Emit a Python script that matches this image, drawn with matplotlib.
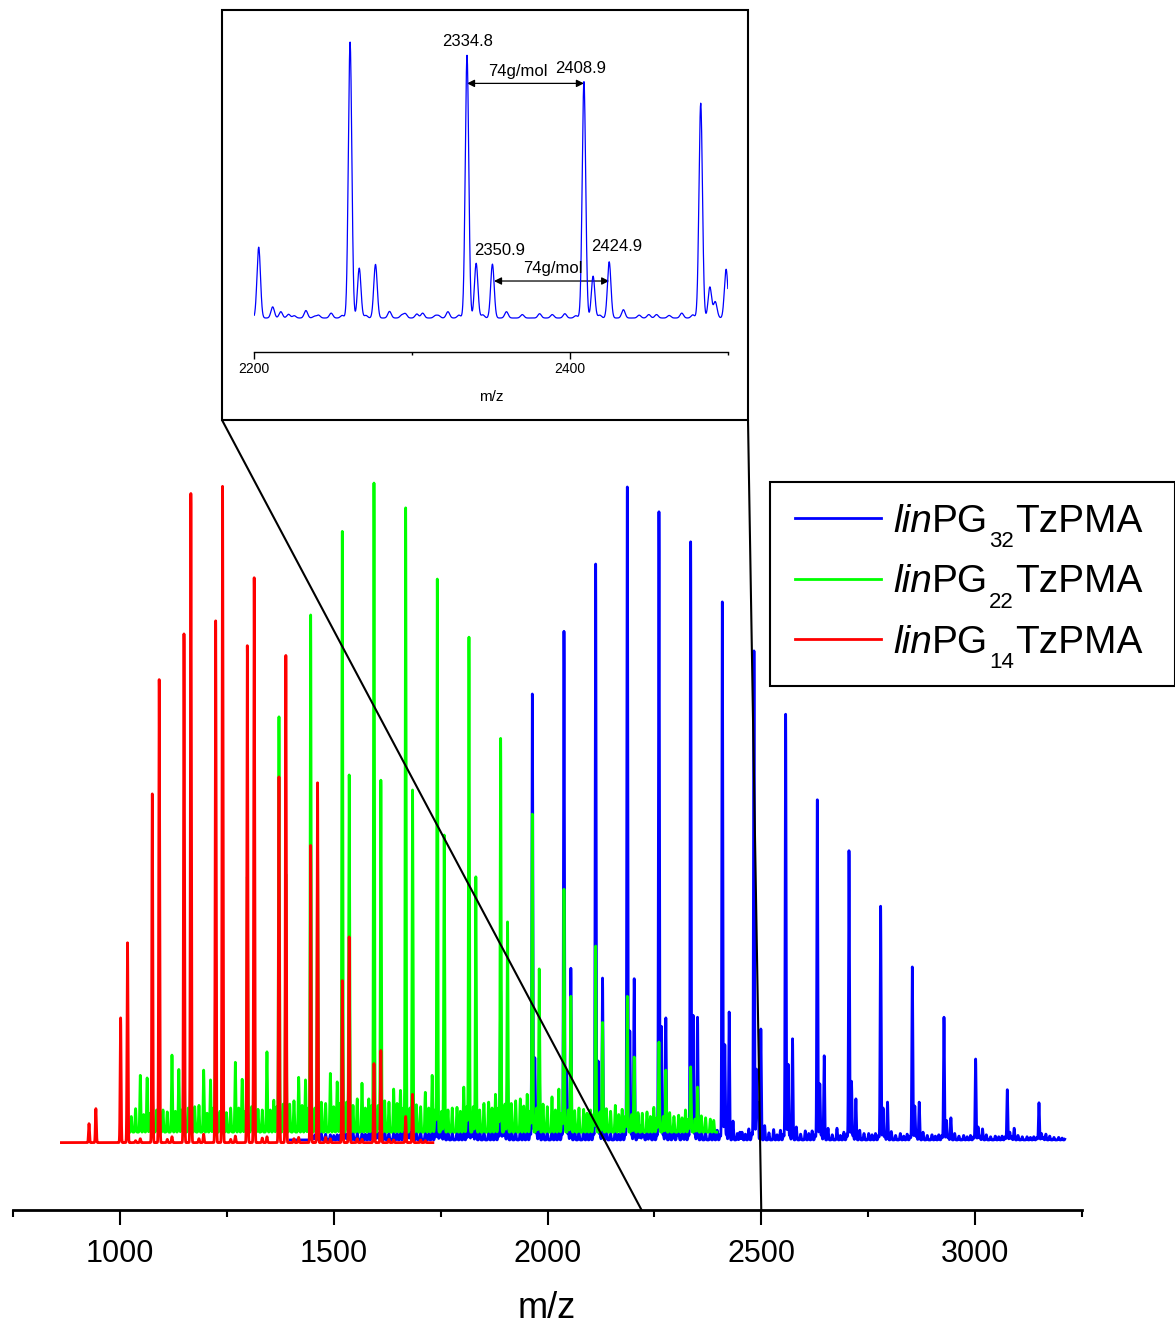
import numpy as np
import matplotlib
matplotlib.use("Agg")
import matplotlib.pyplot as plt
from matplotlib.patches import Rectangle, ConnectionPatch, FancyArrowPatch
from matplotlib.lines import Line2D
from matplotlib.transforms import IdentityTransform

plt.rcParams['font.family'] = ['Liberation Sans', 'DejaVu Sans']

# ---------------------------------------------------------------------------
# Peak positions (m/z) of the oligomer ladder: Na+ adducts and K+ adducts
# ---------------------------------------------------------------------------
NA_MZ = [927.5, 1001.5, 1075.6, 1149.7, 1223.8, 1297.8, 1371.9, 1446.0, 1520.0,
         1594.1, 1668.2, 1742.2, 1816.3, 1890.4, 1964.5, 2038.5, 2112.6, 2186.7,
         2260.7, 2334.8, 2408.9, 2482.9, 2557.0, 2631.1, 2705.2, 2779.2, 2853.3,
         2927.4, 3001.4, 3075.5, 3149.6]
K_MZ = [943.6, 1017.6, 1091.7, 1165.8, 1239.9, 1313.9, 1388.0, 1462.1, 1536.1,
        1610.2, 1684.3, 1758.3, 1832.4, 1906.5, 1980.6, 2054.6, 2128.7, 2202.8,
        2276.8, 2350.9, 2424.9, 2499.0, 2573.1, 2647.2, 2721.3, 2795.3, 2869.4,
        2943.5, 3017.5, 3091.6, 3165.7]
# minor side-series, mass offset from the Na+ peak of the same oligomer
SHOULDER_SHIFT = 5.8
SAT_D_SHIFT = 10.0
SAT_A_SHIFT = 25.0
SAT_E_SHIFT = 35.0
SAT_B_SHIFT = 46.0
SAT_F_SHIFT = 54.0
SAT_C_SHIFT = 62.0
SAT_G_SHIFT = 69.0

# ---------------------------------------------------------------------------
# Intensities (a.u.), one value per oligomer in the ladders above
# ---------------------------------------------------------------------------
# linPG14TzPMA (red)
RED_RANGE = (863.0, 1732.0)
RED_BASE = -0.4
RED_NA_H = [2.9, 19.1, 53.4, 77.9, 79.9, 76.1, 56.0, 45.5, 24.8, 12.1, 4.0,
            0, 0, 0, 0, 0, 0, 0, 0, 0, 0, 0, 0, 0, 0, 0, 0, 0, 0, 0, 0]
RED_K_H = [5.2, 30.6, 70.9, 99.4, 100.5, 86.5, 74.6, 55.1, 31.5, 14.1, 7.4,
           0, 0, 0, 0, 0, 0, 0, 0, 0, 0, 0, 0, 0, 0, 0, 0, 0, 0, 0, 0]
RED_SAT_B_H = [0, 0.6, 0.9, 1.3, 1.0, 0.9, 0.8, 0.6, 0.5, 0.4, 0.3,
               0, 0, 0, 0, 0, 0, 0, 0, 0, 0, 0, 0, 0, 0, 0, 0, 0, 0, 0, 0]
RED_SAT_E_H = [0, 0.3, 0.5, 0.6, 0.5, 0.7, 0.6, 0.8, 0.6, 0.5, 0.4,
               0, 0, 0, 0, 0, 0, 0, 0, 0, 0, 0, 0, 0, 0, 0, 0, 0, 0, 0, 0]

# linPG22TzPMA (green)
GREEN_RANGE = (1023.0, 2396.0)
GREEN_BASE = 1.2
GREEN_NA_H = [0, 0, 6.1, 14.5, 27.1, 39.1, 63.6, 79.2, 92.0, 99.4, 95.6, 84.7,
              75.8, 60.3, 48.7, 37.2, 28.5, 20.8, 13.8, 10.0,
              0, 0, 0, 0, 0, 0, 0, 0, 0, 0, 0]
GREEN_K_H = [0, 0, 5.4, 11.5, 19.1, 22.2, 39.5, 43.6, 54.7, 53.9, 52.4, 45.5,
             39.1, 32.2, 25.0, 20.8, 16.8, 11.5, 9.5, 6.9,
             0, 0, 0, 0, 0, 0, 0, 0, 0, 0, 0]
GREEN_SAT_A_H = [0, 2.4, 3.4, 3.9, 3.0, 3.5, 4.3, 4.6, 4.1, 4.8, 4.2, 3.4, 3.4,
                 4.4, 4.3, 3.3, 3.6, 3.0, 3.0, 2.5,
                 0, 0, 0, 0, 0, 0, 0, 0, 0, 0, 0]
GREEN_SAT_B_H = [0, 8.7, 11.8, 9.5, 10.7, 12.3, 8.4, 9.0, 7.5, 6.6, 6.1, 3.8,
                 4.6, 5.1, 5.4, 3.5, 4.1, 3.1, 2.6, 2.0,
                 0, 0, 0, 0, 0, 0, 0, 0, 0, 0, 0]
GREEN_SAT_C_H = [0, 8.3, 9.6, 8.0, 8.1, 4.9, 8.0, 7.7, 5.1, 6.4, 8.7, 6.9,
                 5.8, 5.8, 6.6, 3.4, 3.5, 3.8, 3.4, 0,
                 0, 0, 0, 0, 0, 0, 0, 0, 0, 0, 0]
GREEN_SAT_D_H = [0, 3.0, 3.4, 3.7, 3.2, 3.9, 4.3, 3.7, 4.6, 4.1, 3.7, 3.2, 3.9,
                 4.3, 3.7, 3.4, 3.1, 2.7, 2.4, 2.0,
                 0, 0, 0, 0, 0, 0, 0, 0, 0, 0, 0]
GREEN_SAT_E_H = [0, 3.6, 3.1, 4.1, 3.7, 3.4, 4.8, 4.4, 5.1, 4.6, 3.9, 3.7, 4.4,
                 4.8, 3.9, 3.7, 3.2, 2.9, 2.4, 2.2,
                 0, 0, 0, 0, 0, 0, 0, 0, 0, 0, 0]
GREEN_SAT_F_H = [0, 2.7, 3.2, 2.9, 3.7, 3.4, 4.1, 3.9, 3.7, 4.4, 3.7, 3.2, 3.7,
                 4.0, 3.4, 2.9, 2.7, 2.4, 2.2, 1.8,
                 0, 0, 0, 0, 0, 0, 0, 0, 0, 0, 0]
GREEN_SAT_G_H = [0, 2.9, 3.4, 3.7, 3.2, 3.9, 3.7, 4.4, 4.1, 3.7, 3.4, 3.9, 3.7,
                 3.2, 2.9, 2.7, 2.4, 2.2, 2.0, 0,
                 0, 0, 0, 0, 0, 0, 0, 0, 0, 0, 0]

# linPG32TzPMA (blue)
BLUE_RANGE = (1398.0, 3210.0)
BLUE_BASE = 0.0
BLUE_NA_H = [0, 0, 0, 0, 0, 0, 0, 2.1, 4.7, 7.0, 9.8, 11.8, 12.9, 22.8, 68.3,
             77.9, 88.2, 100.0, 96.2, 91.6, 82.4, 74.9, 65.2, 52.1, 44.3, 35.8,
             26.5, 18.8, 12.4, 7.7, 5.7]
BLUE_K_H = [0, 0, 0, 0, 0, 0, 0, 1.0, 2.1, 3.7, 5.2, 6.7, 8.3, 9.8, 12.6, 26.3,
            24.8, 24.7, 18.7, 18.8, 19.6, 17.0, 15.5, 12.9, 6.3, 5.8, 5.8, 3.4,
            1.7, 1.8, 0.9]
BLUE_SHOULDER_H = [0, 0, 0, 0, 0, 0, 0, 0.5, 0.8, 1.0, 1.2, 1.5, 2.0, 4.0, 12.6,
                   10.6, 12.1, 16.7, 17.4, 19.1, 14.6, 10.8, 11.6, 8.6, 9.0, 4.9,
                   5.2, 3.0, 2.0, 1.2, 1.0]
BLUE_SAT_A_H = [0, 0, 0, 0, 0, 0, 0, 1.0, 1.2, 1.5, 1.5, 1.8, 2.0, 2.2, 2.5, 2.6,
                2.6, 2.7, 2.3, 2.2, 2.9, 2.2, 2.0, 1.8, 1.5, 1.3, 1.2, 1.0, 0.8,
                0.7, 0.6]
BLUE_SAT_B_H = [0, 0, 0, 0, 0, 0, 0, 0.8, 1.0, 1.2, 1.3, 1.5, 1.6, 1.8, 2.0, 2.2,
                2.4, 2.6, 1.7, 1.5, 1.2, 1.6, 1.4, 1.8, 1.0, 1.0, 0.8, 0.7, 0.6,
                0.5, 0.4]
BLUE_SAT_C_H = [0, 0, 0, 0, 0, 0, 0, 0.8, 1.0, 1.2, 1.4, 1.5, 1.7, 1.8, 2.0, 2.0,
                1.8, 1.7, 2.2, 1.5, 1.7, 1.5, 1.4, 1.2, 1.0, 0.9, 0.8, 0.7, 0.6,
                0.5, 0.4]
BLUE_SAT_D_H = [0, 0, 0, 0, 0, 0, 0, 0.8, 0.9, 1.0, 1.1, 1.2, 1.3, 1.2, 1.4, 1.3,
                1.2, 1.0, 0.9, 1.1, 1.0, 0.9, 0.8, 1.0, 0.8, 0.7, 0.8, 0.6, 0.6,
                0.5, 0.4]
BLUE_SAT_E_H = [0, 0, 0, 0, 0, 0, 0, 0.9, 1.1, 1.0, 1.3, 1.2, 1.4, 1.5, 1.3, 1.2,
                1.0, 1.3, 1.5, 1.2, 1.0, 1.1, 0.9, 0.8, 1.0, 0.7, 0.7, 0.6, 0.5,
                0.5, 0.4]
BLUE_SAT_F_H = [0, 0, 0, 0, 0, 0, 0, 0.7, 0.9, 1.0, 1.0, 1.2, 1.1, 1.3, 1.2, 1.1,
                0.9, 1.0, 0.8, 1.2, 0.9, 0.8, 1.0, 0.7, 0.8, 0.6, 0.6, 0.5, 0.5,
                0.4, 0.3]
BLUE_SAT_G_H = [0, 0, 0, 0, 0, 0, 0, 0.8, 1.0, 1.1, 1.2, 1.1, 1.3, 1.4, 1.2, 1.3,
                1.1, 0.9, 1.0, 0.8, 1.1, 0.9, 0.8, 0.9, 0.7, 0.6, 0.7, 0.5, 0.5,
                0.4, 0.3]
BLUE_EXTRA_MZ = [2211.5, 2216.8, 2225.3, 2238.1, 2293.4, 2303.0, 2316.8, 2450.0, 2492.0]
BLUE_EXTRA_H = [1.2, 2.2, 0.8, 0.6, 1.0, 1.4, 0.8, 1.2, 5.0]

LABELS = ["PG", "TzPMA"]
SERIES_NAMES = ["32", "22", "14"]
XTICKS = [1000, 1500, 2000, 2500, 3000]
INSET_XTICKS = [2200, 2400]

PEAK_SIGMA = 1.1

BLUE = (0, 0, 1)
GREEN = (0, 1, 0)
RED = (1, 0, 0)


def build_trace(mz_range, base, families):
    """Sum of Gaussian peaks on a fine m/z grid."""
    grid = np.arange(mz_range[0], mz_range[1], 0.1)
    y = np.full_like(grid, base)
    for centers, heights in families:
        for c, h in zip(centers, heights):
            if h > 0 and mz_range[0] - 5 < c < mz_range[1] + 5:
                y += h * np.exp(-0.5 * ((grid - c) / PEAK_SIGMA) ** 2)
    return grid, y


def shifted(shift):
    return [m + shift for m in NA_MZ]


red_x, red_y = build_trace(RED_RANGE, RED_BASE, [
    (NA_MZ, RED_NA_H), (K_MZ, RED_K_H),
    (shifted(SAT_B_SHIFT), RED_SAT_B_H),
    (shifted(SAT_E_SHIFT), RED_SAT_E_H)])
green_x, green_y = build_trace(GREEN_RANGE, GREEN_BASE, [
    (NA_MZ, GREEN_NA_H), (K_MZ, GREEN_K_H),
    (shifted(SAT_A_SHIFT), GREEN_SAT_A_H),
    (shifted(SAT_B_SHIFT), GREEN_SAT_B_H),
    (shifted(SAT_C_SHIFT), GREEN_SAT_C_H),
    (shifted(SAT_D_SHIFT), GREEN_SAT_D_H),
    (shifted(SAT_E_SHIFT), GREEN_SAT_E_H),
    (shifted(SAT_F_SHIFT), GREEN_SAT_F_H),
    (shifted(SAT_G_SHIFT), GREEN_SAT_G_H)])
blue_x, blue_y = build_trace(BLUE_RANGE, BLUE_BASE, [
    (NA_MZ, BLUE_NA_H), (K_MZ, BLUE_K_H),
    (shifted(SHOULDER_SHIFT), BLUE_SHOULDER_H),
    (shifted(SAT_A_SHIFT), BLUE_SAT_A_H),
    (shifted(SAT_B_SHIFT), BLUE_SAT_B_H),
    (shifted(SAT_C_SHIFT), BLUE_SAT_C_H),
    (shifted(SAT_D_SHIFT), BLUE_SAT_D_H),
    (shifted(SAT_E_SHIFT), BLUE_SAT_E_H),
    (shifted(SAT_F_SHIFT), BLUE_SAT_F_H),
    (shifted(SAT_G_SHIFT), BLUE_SAT_G_H),
    (BLUE_EXTRA_MZ, BLUE_EXTRA_H)])

# ---------------------------------------------------------------------------
# Figure
# ---------------------------------------------------------------------------
W, H = 1175, 1329
fig = plt.figure(figsize=(W / 100, H / 100), dpi=100)
PX = IdentityTransform()

# main spectrum axes
ax = fig.add_axes([13.1 / W, 1 - 1210 / H, 1068.8 / W, (1210 - 470) / H])
YBOT, YTOP = -10.72, 102.6
ax.plot(blue_x, blue_y, color=BLUE, lw=2.0, zorder=2)
ax.plot(green_x, green_y, color=GREEN, lw=2.0, zorder=3)
ax.plot(red_x, red_y, color=RED, lw=2.0, zorder=4)
ax.set_xlim(750, 3250)
ax.set_ylim(YBOT, YTOP)
for s in ("top", "right", "left"):
    ax.spines[s].set_visible(False)
ax.spines["bottom"].set_linewidth(2.0)
ax.set_yticks([])
ax.set_xticks(XTICKS)
ax.set_xticks([750, 1250, 1750, 2250, 2750, 3250], minor=True)
ax.tick_params(axis="x", which="major", direction="out", length=10.8, width=1.5,
               labelsize=22, pad=10)
ax.tick_params(axis="x", which="minor", direction="out", length=5.0, width=1.5)
fig.text(547 / W, 1 - 1308 / H, "m/z", fontsize=26, ha="center", va="center")

# zoomed inset
ax_in = fig.add_axes([254.3 / W, 1 - 352 / H, 473.4 / W, (352 - 20) / H])
IN_BOT, IN_TOP = -11.85, 103.9
ax_in.plot(blue_x, blue_y, color=BLUE, lw=0.9)
ax_in.set_xlim(2200, 2500)
ax_in.set_ylim(IN_BOT, IN_TOP)
for s in ("top", "right", "left"):
    ax_in.spines[s].set_visible(False)
ax_in.spines["bottom"].set_linewidth(1.0)
ax_in.set_yticks([])
ax_in.set_xticks(INSET_XTICKS)
ax_in.set_xticks([2300, 2500], minor=True)
ax_in.tick_params(axis="x", which="major", direction="out", length=5, width=1.0,
                  labelsize=10, pad=2)
ax_in.tick_params(axis="x", which="minor", direction="out", length=2.5, width=1.0)
fig.text(491 / W, 1 - 397 / H, "m/z", fontsize=11, ha="center", va="center")

# peak annotations inside the inset
p1, p2 = NA_MZ[19], NA_MZ[20]
k1, k2 = K_MZ[19], K_MZ[20]
ann = dict(fontsize=12, ha="center", va="center")
ax_in.text(2335.4, 96.3, f"{p1:.1f}", **ann)
ax_in.text(2407.0, 87.1, f"{p2:.1f}", **ann)
ax_in.text(2367.2, 86.1, "74g/mol", **ann)
ax_in.text(2355.7, 23.4, f"{k1:.1f}", **ann)
ax_in.text(2429.8, 24.9, f"{k2:.1f}", **ann)
ax_in.text(2389.4, 17.1, "74g/mol", **ann)
for xa, xb, yy in ((p1, p2, 81.8), (k1 + 1.0, k2, 12.9)):
    ax_in.add_patch(FancyArrowPatch((xa, yy), (xb, yy), arrowstyle="<|-|>",
                                    mutation_scale=11, lw=0.9, color="black",
                                    shrinkA=0, shrinkB=0))

# inset frame and zoom connectors
fig.add_artist(Rectangle((222, H - 420), 526, 410, transform=PX, fill=False,
                         lw=1.5, edgecolor="black"))
for xa, mz in ((222, 2220), (748, 2500)):
    con = ConnectionPatch(xyA=(xa, H - 420), coordsA=PX, xyB=(mz, YBOT),
                          coordsB=ax.transData, color="black", lw=1.5, zorder=10)
    fig.add_artist(con)

# legend drawn piece by piece (italic prefix, low subscript)
fig.add_artist(Rectangle((769.5, H - 685.5), 405, 204, transform=PX, fill=False,
                         lw=1.5, edgecolor="black"))
renderer = fig.canvas.get_renderer()


def put(x, y_top, s, size, style="normal"):
    t = fig.text(x, H - y_top, s, fontsize=size, style=style, transform=PX,
                 ha="left", va="baseline")
    return t.get_window_extent(renderer).x1


for i, (name, col) in enumerate(zip(SERIES_NAMES, (BLUE, GREEN, RED))):
    yl = 518 + 60.5 * i
    fig.add_artist(Line2D([795, 881], [H - yl, H - yl], transform=PX, color=col, lw=2.0))
    base = 532 + 60.5 * i
    x = put(893, base, "lin", 28, "italic")
    x = put(x, base, LABELS[0], 28)
    x = put(x + 1, base + 15, name, 16)
    put(x + 1, base, LABELS[1], 28)

fig.savefig("out.png", dpi=100)
